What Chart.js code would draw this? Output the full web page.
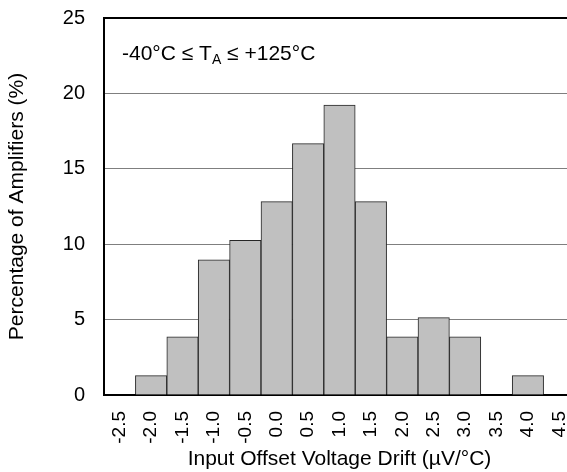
<!DOCTYPE html>
<html>
<head>
<meta charset="utf-8">
<script src="https://cdn.jsdelivr.net/npm/chart.js@4"></script>
<style>
  html, body { margin: 0; padding: 0; background: #fff; overflow: hidden; }
  #wrap { width: 567px; height: 472px; overflow: hidden; }
</style>
</head>
<body>
<div id="wrap"><canvas id="histo" width="580" height="472"></canvas></div>
<script>
// drift bins (uV/C) and percentage of amplifiers in each bin
const bins = ['-2.5', '-2.0', '-1.5', '-1.0', '-0.5', '0.0', '0.5', '1.0', '1.5', '2.0', '2.5', '3.0', '3.5', '4.0', '4.5'];
const percent = [0, 1.28, 3.85, 8.97, 10.26, 12.82, 16.67, 19.23, 12.82, 3.85, 5.13, 3.85, 0, 1.28, 0];
const yTicks = [0, 5, 10, 15, 20, 25];

const font = 'Liberation Sans, Arial, sans-serif';

// temperature range note in the upper left corner
const noteLabel = {
    id: 'noteLabel',
    afterDraw(chart) {
        const c = chart.ctx;
        const x0 = chart.chartArea.left + 18;
        const y0 = chart.chartArea.top + 42;
        c.save();
        c.fillStyle = '#000';
        c.textBaseline = 'alphabetic';
        c.font = '21px ' + font;
        let s = '-40\u00B0C \u2264 T';
        c.fillText(s, x0, y0);
        let x = x0 + c.measureText(s).width;
        c.font = '14px ' + font;
        c.fillText('A', x, y0 + 4);
        x += c.measureText('A').width;
        c.font = '21px ' + font;
        c.fillText(' \u2264 +125\u00B0C', x, y0);
        c.restore();
    }
};

new Chart(document.getElementById('histo').getContext('2d'), {
    type: 'bar',
    data: {
        labels: bins,
        datasets: [{
            data: percent,
            backgroundColor: '#c0c0c0',
            borderColor: '#262626',
            borderWidth: 1,
            categoryPercentage: 1.0,
            barPercentage: 1.0
        }]
    },
    options: {
        responsive: false,
        animation: false,
        layout: { padding: { top: 18, right: 5, left: 0, bottom: 0 } },
        plugins: {
            legend: { display: false },
            tooltip: { enabled: false }
        },
        scales: {
            x: {
                grid: { display: false, drawTicks: false },
                border: { color: '#000', width: 2 },
                ticks: {
                    color: '#000',
                    font: { family: font, size: 19 },
                    minRotation: 90,
                    maxRotation: 90,
                    padding: 16
                },
                title: {
                    display: true,
                    text: 'Input Offset Voltage Drift (\u00B5V/\u00B0C)',
                    color: '#000',
                    font: { family: font, size: 21 },
                    padding: { top: 0, bottom: 0 }
                },
                afterFit(scale) {
                    scale.height = 77;
                    scale.paddingLeft = 0;
                    scale.paddingRight = 0;
                    scale.paddingTop = 0;
                    scale.paddingBottom = 0;
                }
            },
            y: {
                min: 0,
                max: 25,
                afterBuildTicks(scale) { scale.ticks = yTicks.map(v => ({ value: v })); },
                grid: {
                    drawTicks: false,
                    color: ctx => ctx.tick && ctx.tick.value === 25 ? '#000' : '#7f7f7f',
                    lineWidth: ctx => ctx.tick && ctx.tick.value === 25 ? 2 : 1
                },
                border: { color: '#000', width: 2 },
                ticks: {
                    color: '#000',
                    font: { family: font, size: 20 },
                    padding: 19
                },
                title: {
                    display: true,
                    text: 'Percentage of Amplifiers (%)',
                    color: '#000',
                    font: { family: font, size: 21 },
                    padding: { top: 5, bottom: 0 }
                },
                afterFit(scale) {
                    scale.width = 104;
                    scale.paddingTop = 0;
                    scale.paddingBottom = 0;
                }
            }
        }
    },
    plugins: [noteLabel]
});
</script>
</body>
</html>
